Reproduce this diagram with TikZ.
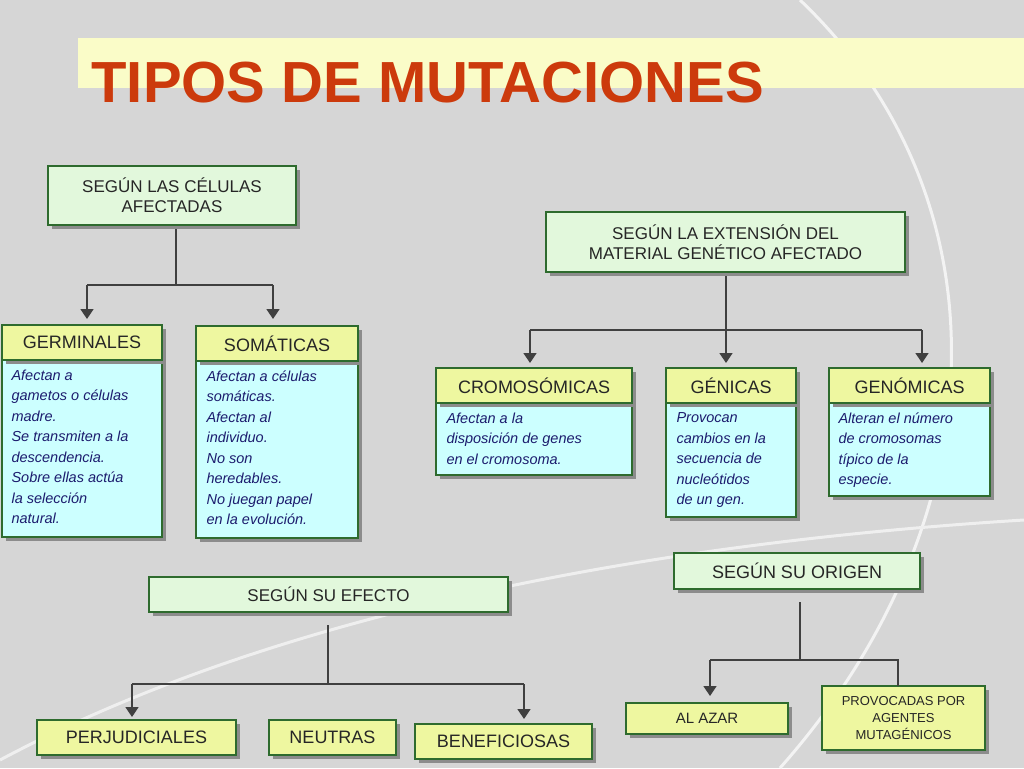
\documentclass[tikz,border=0pt]{standalone}
\usepackage{fontspec}
\setmainfont{Liberation Sans}
\usetikzlibrary{arrows.meta}
\definecolor{bg}{HTML}{D6D6D6}
\definecolor{grn}{HTML}{E2F8DC}
\definecolor{grnb}{HTML}{2E6B2E}
\definecolor{yel}{HTML}{EEF7A0}
\definecolor{cyn}{HTML}{CCFFFF}
\definecolor{navy}{HTML}{1C1C6E}
\definecolor{ttl}{HTML}{CC3A0C}
\definecolor{band}{HTML}{FAFCC8}
\definecolor{ln}{HTML}{404040}
\begin{document}
\begin{tikzpicture}[x=1pt,y=-1pt,
 conn/.style={ln,line width=1.6pt},
 arr/.style={conn,-{Triangle[length=10pt,width=13pt]}},
 lab/.style={font=\fontsize{17}{20}\selectfont,text=black!85,align=center},
 body/.style={font=\fontsize{14.5}{20.5}\selectfont\itshape,text=navy,align=left,anchor=north west}]
\fill[bg] (0,0) rectangle (1024,768);
\useasboundingbox (0,0) rectangle (1024,768);
\draw[white!70!bg,line width=3pt] (800,0) .. controls (1010,200) and (1000,520) .. (780,768);
\draw[white!60!bg,line width=3pt] (0,760) .. controls (300,600) and (700,540) .. (1024,520);
\fill[band] (78,38) rectangle (1024,88);
\node[anchor=base west,font=\fontsize{58}{58}\selectfont\bfseries,text=ttl] (title) at (88,102) {TIPOS DE MUTACIONES};
\newcommand{\mybox}[6]{%
 \fill[black!45] (#2+4,#3+4) rectangle (#4+4,#5+4);
 \draw[draw=grnb,line width=1.2pt,fill=#6] (#2,#3) rectangle (#4,#5);
 \coordinate (#1) at ({(#2+#4)/2},{(#3+#5)/2});}
\mybox{A}{48}{166}{296}{225}{grn}
\node[lab] at (A) {SEGÚN LAS CÉLULAS\\AFECTADAS};
\mybox{B}{546}{212}{905}{272}{grn}
\node[lab] at (B) {SEGÚN LA EXTENSIÓN DEL\\MATERIAL GENÉTICO AFECTADO};
\mybox{C}{149}{577}{508}{612}{grn}
\node[lab] at (C) {SEGÚN SU EFECTO};
\mybox{D}{674}{553}{920}{589}{grn}
\node[lab,font=\fontsize{18}{20}\selectfont] at (D) {SEGÚN SU ORIGEN};
\mybox{Gb}{2}{360}{162}{537}{cyn}
\mybox{G}{2}{325}{162}{360}{yel}
\node[lab,font=\fontsize{18}{20}\selectfont] at (G) {GERMINALES};
\node[body] at (8,366) {Afectan a\\gametos o células\\madre.\\Se transmiten a la\\descendencia.\\Sobre ellas actúa\\la selección\\natural.};
\mybox{Sb}{196}{361}{358}{538}{cyn}
\mybox{S}{196}{326}{358}{361}{yel}
\node[lab,font=\fontsize{18}{20}\selectfont] at (S) {SOMÁTICAS};
\node[body] at (203,367) {Afectan a células\\somáticas.\\Afectan al\\individuo.\\No son\\heredables.\\No juegan papel\\en la evolución.};
\mybox{Cb}{436}{403}{632}{475}{cyn}
\mybox{Cr}{436}{368}{632}{403}{yel}
\node[lab,font=\fontsize{18}{20}\selectfont] at (Cr) {CROMOSÓMICAS};
\node[body] at (443,409) {Afectan a la\\disposición de genes\\en el cromosoma.};
\mybox{Gnb}{666}{403}{796}{517}{cyn}
\mybox{Gn}{666}{368}{796}{403}{yel}
\node[lab,font=\fontsize{18}{20}\selectfont] at (Gn) {GÉNICAS};
\node[body] at (673,409) {Provocan\\cambios en la\\secuencia de\\nucleótidos\\de un gen.};
\mybox{Gmb}{829}{403}{990}{496}{cyn}
\mybox{Gm}{829}{368}{990}{403}{yel}
\node[lab,font=\fontsize{18}{20}\selectfont] at (Gm) {GENÓMICAS};
\node[body] at (835,409) {Alteran el número\\de cromosomas\\típico de la\\especie.};
\mybox{P}{37}{720}{236}{755}{yel}
\node[lab,font=\fontsize{18}{20}\selectfont] at (P) {PERJUDICIALES};
\mybox{N}{269}{720}{396}{755}{yel}
\node[lab,font=\fontsize{18}{20}\selectfont] at (N) {NEUTRAS};
\mybox{Be}{415}{724}{592}{759}{yel}
\node[lab,font=\fontsize{18}{20}\selectfont] at (Be) {BENEFICIOSAS};
\mybox{Az}{626}{703}{788}{734}{yel}
\node[lab,font=\fontsize{15}{18}\selectfont] at (Az) {AL AZAR};
\mybox{Pr}{822}{686}{985}{750}{yel}
\node[lab,font=\fontsize{13}{17}\selectfont] at (Pr) {PROVOCADAS POR\\AGENTES\\MUTAGÉNICOS};
\draw[conn] (176,229) -- (176,285) (87,285) -- (273,285);
\draw[arr] (87,285) -- (87,319);
\draw[arr] (273,285) -- (273,319);
\draw[conn] (726,276) -- (726,330) (530,330) -- (922,330);
\draw[arr] (530,330) -- (530,363);
\draw[arr] (726,330) -- (726,363);
\draw[arr] (922,330) -- (922,363);
\draw[conn] (328,625) -- (328,684) (132,684) -- (524,684);
\draw[arr] (132,684) -- (132,717);
\draw[arr] (524,684) -- (524,719);
\draw[conn] (800,602) -- (800,660) (710,660) -- (898,660) -- (898,686);
\draw[arr] (710,660) -- (710,696);
\end{tikzpicture}
\end{document}
